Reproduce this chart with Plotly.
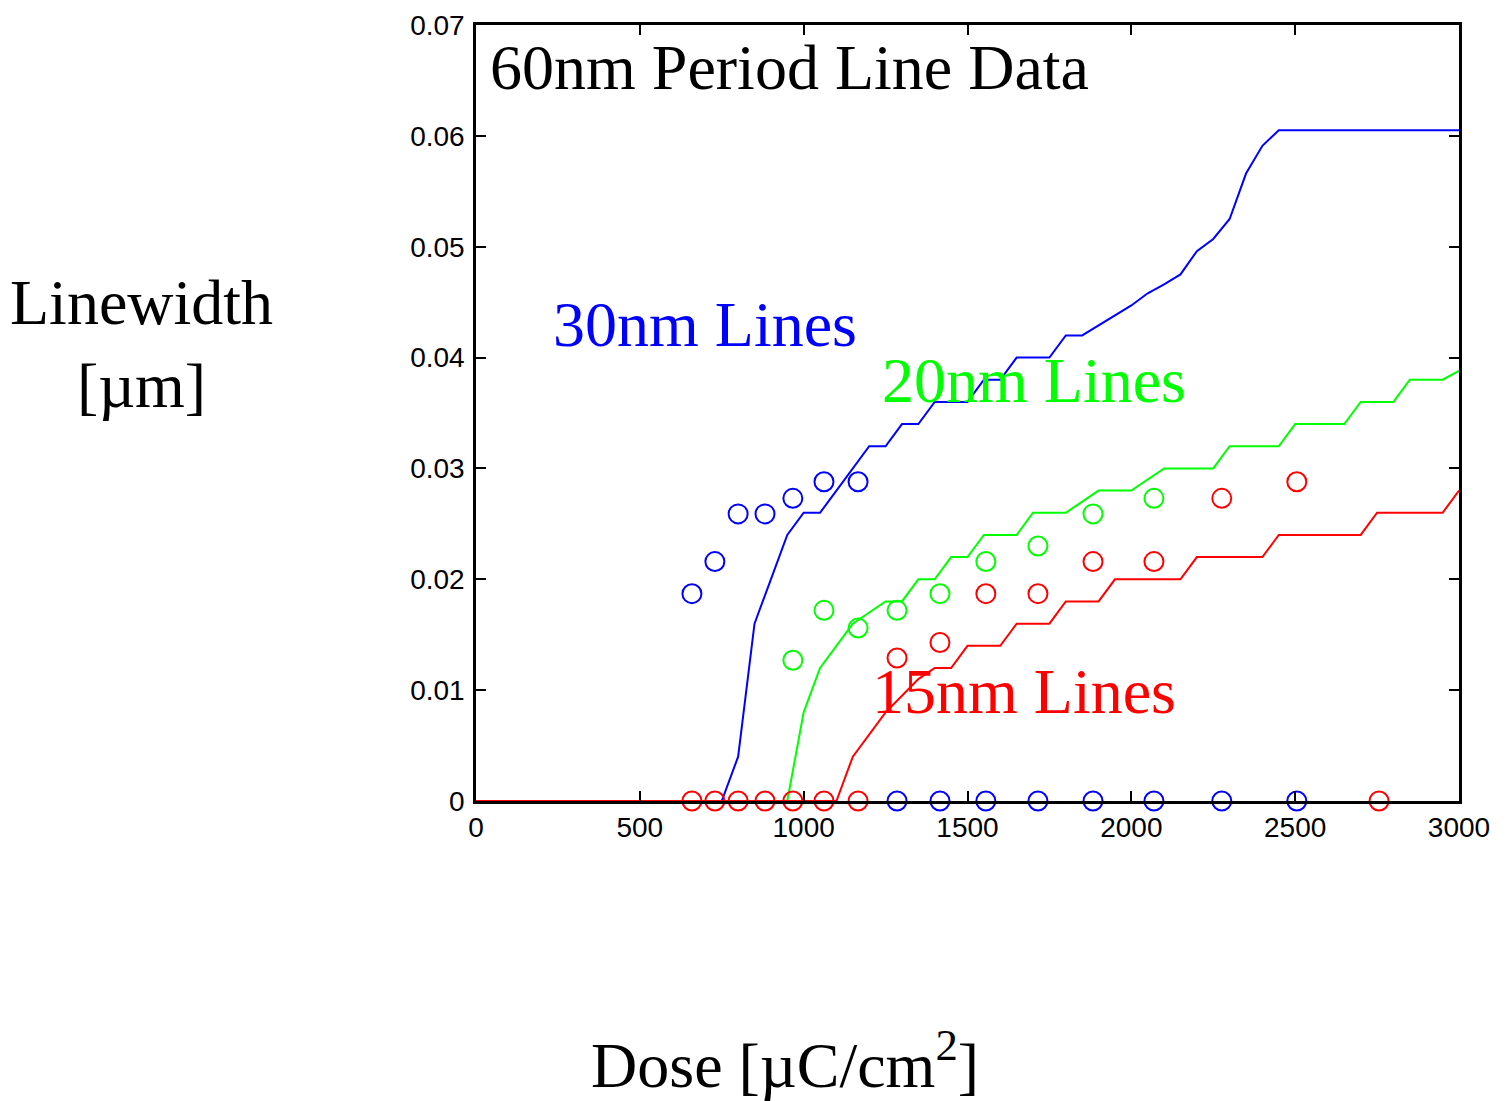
import plotly.graph_objects as go

# ---- data ----
# simulated linewidth curves (dose in uC/cm^2, linewidth in um)
blue_line_x = [0, 750, 800, 850, 900, 950, 1000, 1050, 1100, 1150, 1200, 1250, 1300, 1350, 1400, 1500,
               1550, 1600, 1650, 1750, 1800, 1850, 1900, 1950, 2000, 2050, 2100, 2150, 2200, 2250,
               2300, 2350, 2400, 2450, 3000]
blue_line_y = [0, 0, 0.004, 0.016, 0.020, 0.024, 0.026, 0.026, 0.028, 0.030, 0.032, 0.032, 0.034, 0.034,
               0.036, 0.036, 0.038, 0.038, 0.040, 0.040, 0.042, 0.042, 0.0429, 0.0438, 0.0447, 0.0458,
               0.0466, 0.0475, 0.0496, 0.0507, 0.0525, 0.0566, 0.0591, 0.0605, 0.0605]

green_line_x = [0, 950, 1000, 1050, 1100, 1150, 1200, 1250, 1300, 1350, 1400, 1450, 1500, 1550, 1650,
                1700, 1800, 1850, 1900, 2000, 2100, 2250, 2300, 2450, 2500, 2650, 2700, 2800, 2850,
                2950, 3000]
green_line_y = [0, 0, 0.008, 0.012, 0.014, 0.016, 0.017, 0.018, 0.018, 0.020, 0.020, 0.022, 0.022, 0.024,
                0.024, 0.026, 0.026, 0.027, 0.028, 0.028, 0.030, 0.030, 0.032, 0.032, 0.034, 0.034,
                0.036, 0.036, 0.038, 0.038, 0.0388]

red_line_x = [0, 1100, 1150, 1250, 1300, 1350, 1400, 1450, 1500, 1600, 1650, 1750, 1800, 1900, 1950,
              2150, 2200, 2400, 2450, 2700, 2750, 2950, 3000]
red_line_y = [0, 0, 0.004, 0.008, 0.0095, 0.011, 0.012, 0.012, 0.014, 0.014, 0.016, 0.016, 0.018,
              0.018, 0.020, 0.020, 0.022, 0.022, 0.024, 0.024, 0.026, 0.026, 0.028]

# measured data points
blue_pts_x = [659, 729, 800, 882, 967, 1062, 1166, 1285, 1416, 1556, 1715, 1883, 2069, 2276, 2505]
blue_pts_y = [0.0187, 0.0216, 0.0259, 0.0259, 0.0273, 0.0288, 0.0288, 0, 0, 0, 0, 0, 0, 0, 0]

green_pts_x = [967, 1062, 1166, 1285, 1416, 1556, 1715, 1883, 2069]
green_pts_y = [0.0127, 0.0172, 0.0156, 0.0172, 0.0187, 0.0216, 0.0230, 0.0259, 0.0273]

red_pts_x = [659, 729, 800, 882, 967, 1062, 1166, 1285, 1416, 1556, 1715, 1883, 2069, 2276, 2505, 2756]
red_pts_y = [0, 0, 0, 0, 0, 0, 0, 0.0129, 0.0143, 0.0187, 0.0187, 0.0216, 0.0216, 0.0273, 0.0288, 0]

x_ticks = [0, 500, 1000, 1500, 2000, 2500, 3000]
x_tick_labels = ["0", "500", "1000", "1500", "2000", "2500", "3000"]
y_ticks = [0, 0.01, 0.02, 0.03, 0.04, 0.05, 0.06, 0.07]
y_tick_labels = ["0", "0.01", "0.02", "0.03", "0.04", "0.05", "0.06", "0.07"]

BLUE, GREEN, RED = "#0000FF", "#00FF00", "#FF0000"
SERIF = "Liberation Serif, Times New Roman, serif"
SANS = "Liberation Sans, Arial, sans-serif"

fig = go.Figure()
for lx, ly, c in [(blue_line_x, blue_line_y, BLUE), (green_line_x, green_line_y, GREEN),
                  (red_line_x, red_line_y, RED)]:
    fig.add_trace(go.Scatter(x=lx, y=ly, mode="lines", line=dict(color=c, width=2),
                             showlegend=False, cliponaxis=False))
for px, py, c in [(blue_pts_x, blue_pts_y, BLUE), (green_pts_x, green_pts_y, GREEN),
                  (red_pts_x, red_pts_y, RED)]:
    fig.add_trace(go.Scatter(x=px, y=py, mode="markers",
                             marker=dict(symbol="circle-open", size=19, color=c, line=dict(width=2, color=c)),
                             showlegend=False, cliponaxis=False))

axis_common = dict(showgrid=False, zeroline=False, showline=True, linecolor="black", linewidth=2.5,
                   mirror="allticks", ticks="inside", ticklen=10, tickwidth=1.5, tickcolor="black",
                   automargin=False, tickfont=dict(family=SANS, size=28, color="black"))
fig.update_xaxes(range=[0, 3000], tickvals=x_ticks, ticktext=x_tick_labels, **axis_common)
fig.update_yaxes(range=[0, 0.07], tickvals=y_ticks, ticktext=y_tick_labels, ticklabelstandoff=3,
                 **axis_common)

annots = [
    dict(text="60nm Period Line Data", x=40, y=0.0662, color="black"),
    dict(text="30nm Lines", x=232, y=0.0430, color=BLUE),
    dict(text="20nm Lines", x=1236, y=0.0379, color=GREEN),
    dict(text="15nm Lines", x=1205, y=0.0099, color=RED),
]
for a in annots:
    fig.add_annotation(text=a["text"], x=a["x"], y=a["y"], xref="x", yref="y", xanchor="left",
                       yanchor="middle", showarrow=False, borderpad=0,
                       font=dict(family=SERIF, size=64, color=a["color"]))

fig.add_annotation(text="Linewidth<br>[µm]", x=-0.34, y=0.589, xref="paper", yref="paper",
                   xanchor="center", yanchor="middle", showarrow=False,
                   font=dict(family=SERIF, size=64, color="black"))
fig.add_annotation(text="Dose [µC/cm<sup>2</sup>]", x=0.314, y=-0.335, xref="paper", yref="paper",
                   xanchor="center", yanchor="middle", showarrow=False,
                   font=dict(family=SERIF, size=64, color="black"))

fig.update_layout(width=1502, height=1093, margin=dict(l=468, r=51, t=17, b=300),
                  paper_bgcolor="white", plot_bgcolor="white")
fig.write_html("out.html")
